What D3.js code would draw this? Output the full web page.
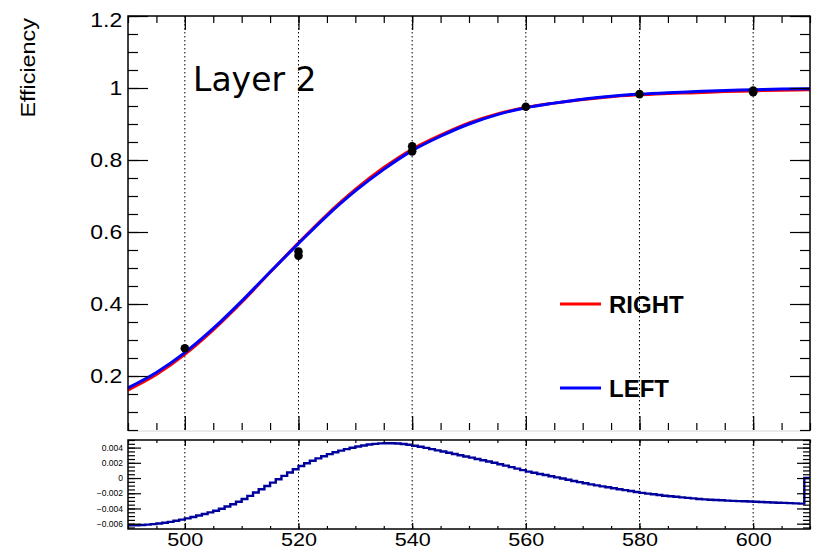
<!DOCTYPE html>
<html>
<head>
<meta charset="utf-8">
<script src="https://cdn.jsdelivr.net/npm/d3@7"></script>
<style>
  body { margin: 0; background: #fff; }
  text { font-family: "Liberation Sans", Arial, Helvetica, sans-serif; }
</style>
</head>
<body>
<svg id="chart" width="816" height="550"></svg>
<script>
// ---- data ----
var xDomain = [490, 610];
var effDomain = [0.05, 1.2];
var diffDomain = [-0.0067, 0.005];

// fitted efficiency curves, sampled every 5 units
var fitX = [490, 495, 500, 505, 510, 515, 520, 525, 530, 535, 540, 545, 550,
            555, 560, 565, 570, 575, 580, 585, 590, 595, 600, 605, 610];
var rightEff = [0.161, 0.204, 0.260, 0.328, 0.405, 0.488, 0.570, 0.648, 0.718,
                0.779, 0.830, 0.869, 0.903, 0.928, 0.946, 0.958, 0.968, 0.976,
                0.981, 0.985, 0.987, 0.990, 0.992, 0.994, 0.995];
var leftEff  = [0.167, 0.210, 0.265, 0.332, 0.408, 0.489, 0.568, 0.645, 0.714,
                0.774, 0.826, 0.866, 0.900, 0.926, 0.945, 0.958, 0.969, 0.977,
                0.983, 0.987, 0.990, 0.993, 0.995, 0.997, 0.998];

// measured points
var pointX   = [500, 520, 520, 540, 540, 560, 580, 600, 600];
var pointEff = [0.277, 0.546, 0.534, 0.838, 0.824, 0.948, 0.983, 0.993, 0.988];

// difference histogram, 1-unit bins from 490 to 610, values in units of 1e-3
var binStart = 490, binWidth = 1;
var diffE3 = [
  -6.22, -6.20, -6.17, -6.12, -6.06, -5.98, -5.88, -5.76, -5.62, -5.47,
  -5.30, -5.12, -4.93, -4.73, -4.52, -4.30, -4.03, -3.74, -3.44, -3.11,
  -2.76, -2.34, -1.91, -1.48, -1.04, -0.60, -0.16,  0.28,  0.72,  1.16,
   1.58,  1.94,  2.27,  2.58,  2.87,  3.14,  3.38,  3.60,  3.80,  3.98,
   4.14,  4.28,  4.40,  4.49,  4.55,  4.58,  4.58,  4.54,  4.47,  4.37,
   4.25,  4.11,  3.96,  3.80,  3.64,  3.48,  3.32,  3.16,  3.00,  2.84,
   2.68,  2.51,  2.34,  2.17,  2.00,  1.82,  1.63,  1.44,  1.24,  1.04,
   0.84,  0.69,  0.54,  0.39,  0.24,  0.09, -0.07, -0.23, -0.39, -0.54,
  -0.69, -0.83, -0.96, -1.09, -1.22, -1.35, -1.47, -1.59, -1.71, -1.83,
  -1.95, -2.05, -2.14, -2.23, -2.32, -2.40, -2.47, -2.54, -2.61, -2.68,
  -2.75, -2.80, -2.85, -2.89, -2.93, -2.97, -3.00, -3.03, -3.06, -3.09,
  -3.12, -3.15, -3.18, -3.21, -3.24, -3.27, -3.30, -3.33, -3.36,  0.00
];

var gridX = [500, 520, 540, 560, 580, 600];
var effTicks = [0.2, 0.4, 0.6, 0.8, 1, 1.2];
var diffTicks = [-0.006, -0.004, -0.002, 0, 0.002, 0.004];
var legendLabels = ["RIGHT", "LEFT"];
var legendColors = ["#ff0000", "#0000ff"];

// ---- drawing ----
var svg = d3.select("#chart");
svg.append("rect").attr("width", 816).attr("height", 550).attr("fill", "#fff");

var x  = d3.scaleLinear(xDomain, [128, 810]);
var y  = d3.scaleLinear(effDomain, [430, 16]);
var yd = d3.scaleLinear(diffDomain, [529, 440]);

// dotted grid in both pads
gridX.forEach(function (v) {
    [[16, 430], [440, 529]].forEach(function (r) {
        svg.append("line")
            .attr("x1", x(v)).attr("x2", x(v)).attr("y1", r[0]).attr("y2", r[1])
            .attr("stroke", "#000").attr("stroke-width", 1)
            .attr("stroke-dasharray", "1.5,2.5");
    });
});

// fit curves: red first, blue on top
var fitLine = function (vals) {
    return d3.line().x(function (d, i) { return x(fitX[i]); })
                    .y(function (d) { return y(d); })
                    .curve(d3.curveMonotoneX)(vals);
};
svg.append("path").attr("d", fitLine(rightEff))
    .attr("fill", "none").attr("stroke", legendColors[0]).attr("stroke-width", 3);
svg.append("path").attr("d", fitLine(leftEff))
    .attr("fill", "none").attr("stroke", legendColors[1]).attr("stroke-width", 3);

svg.selectAll("circle.pt").data(pointX).enter().append("circle")
    .attr("class", "pt")
    .attr("cx", function (d) { return x(d); })
    .attr("cy", function (d, i) { return y(pointEff[i]); })
    .attr("r", 4.3).attr("fill", "#000");

// difference histogram (step line)
var steps = diffE3.map(function (v, i) { return [binStart + i * binWidth, v * 1e-3]; });
steps.push([binStart + diffE3.length * binWidth, diffE3[diffE3.length - 1] * 1e-3]);
svg.append("path")
    .attr("d", d3.line().x(function (d) { return x(d[0]); })
                        .y(function (d) { return yd(d[1]); })
                        .curve(d3.curveStepAfter)(steps))
    .attr("fill", "none").attr("stroke", "#00009c").attr("stroke-width", 2.4);

// frames
svg.append("line").attr("x1", 128).attr("x2", 810).attr("y1", 431).attr("y2", 431)
    .attr("stroke", "#d4d4d4").attr("stroke-width", 1);
svg.append("path").attr("d", "M128,431V16H810V431")
    .attr("fill", "none").attr("stroke", "#000").attr("stroke-width", 1.5);
svg.append("rect").attr("x", 128).attr("y", 440).attr("width", 682).attr("height", 89)
    .attr("fill", "none").attr("stroke", "#000").attr("stroke-width", 1.5);

// ticks drawn inward, ROOT style
function tickAxis(axis, scale, values, len, tx, ty, fmt, pad) {
    var a = axis(scale).tickValues(values).tickSize(-len).tickPadding(pad || 5);
    a.tickFormat(fmt || "");
    var g = svg.append("g").attr("transform", "translate(" + tx + "," + ty + ")").call(a);
    g.select(".domain").remove();
    g.selectAll("line").attr("stroke", "#000").attr("stroke-width", 1.2);
    g.attr("font-family", null).attr("font-size", null);
    return g;
}
var xMinor = d3.range(490, 611, 5);
var effMinor = d3.range(0.05, 1.2001, 0.05);
var diffMinor = d3.range(-0.0065, 0.00501, 0.0005);
var effFmt = function (v) { return String(+v.toFixed(1)); };

// upper pad
tickAxis(d3.axisTop, x, xMinor, 7, 0, 16);
tickAxis(d3.axisTop, x, gridX, 14, 0, 16);
tickAxis(d3.axisBottom, x, xMinor, 7, 0, 430);
tickAxis(d3.axisBottom, x, gridX, 14, 0, 430);
tickAxis(d3.axisLeft, y, effMinor, 10, 128, 0);
var ly = tickAxis(d3.axisLeft, y, effTicks, 20, 128, 0, effFmt);
ly.selectAll("text").attr("font-size", 20).attr("fill", "#000")
    .attr("transform", function (d) { return d === 1.2 ? "translate(0,4) scale(1.15,1)" : "scale(1.15,1)"; });
tickAxis(d3.axisRight, y, effMinor, 10, 810, 0);
tickAxis(d3.axisRight, y, effTicks, 20, 810, 0);

// lower pad
tickAxis(d3.axisTop, x, xMinor, 3, 0, 440);
tickAxis(d3.axisTop, x, gridX, 6, 0, 440);
tickAxis(d3.axisBottom, x, xMinor, 3, 0, 529);
var lx = tickAxis(d3.axisBottom, x, gridX, 6, 0, 529, d3.format("d"), 4);
lx.selectAll("text").attr("font-size", 18).attr("fill", "#000")
    .attr("transform", "scale(1.2,1)");
tickAxis(d3.axisLeft, yd, diffMinor, 7, 128, 0);
var ld = tickAxis(d3.axisLeft, yd, diffTicks, 13, 128, 0, d3.format(".3~f"));
ld.selectAll("text").attr("font-size", 8.5).attr("fill", "#000");
tickAxis(d3.axisRight, yd, diffMinor, 7, 810, 0);
tickAxis(d3.axisRight, yd, diffTicks, 13, 810, 0);

// titles
svg.append("text")
    .attr("transform", "translate(35,18) rotate(-90) scale(1.2,1)")
    .attr("text-anchor", "end").attr("font-size", 19.5)
    .text("Efficiency");
svg.append("text").attr("x", 193).attr("y", 91)
    .style("font-family", "'DejaVu Sans', sans-serif").attr("font-size", 33)
    .text("Layer 2");

// legend
var legY = [304, 388];
legendLabels.forEach(function (lab, i) {
    svg.append("line").attr("x1", 560).attr("x2", 601)
        .attr("y1", legY[i]).attr("y2", legY[i])
        .attr("stroke", legendColors[i]).attr("stroke-width", 3);
    svg.append("text").attr("x", 609).attr("y", legY[i] + 9)
        .attr("font-size", 24).attr("font-weight", "bold")
        .text(lab);
});
</script>
</body>
</html>
